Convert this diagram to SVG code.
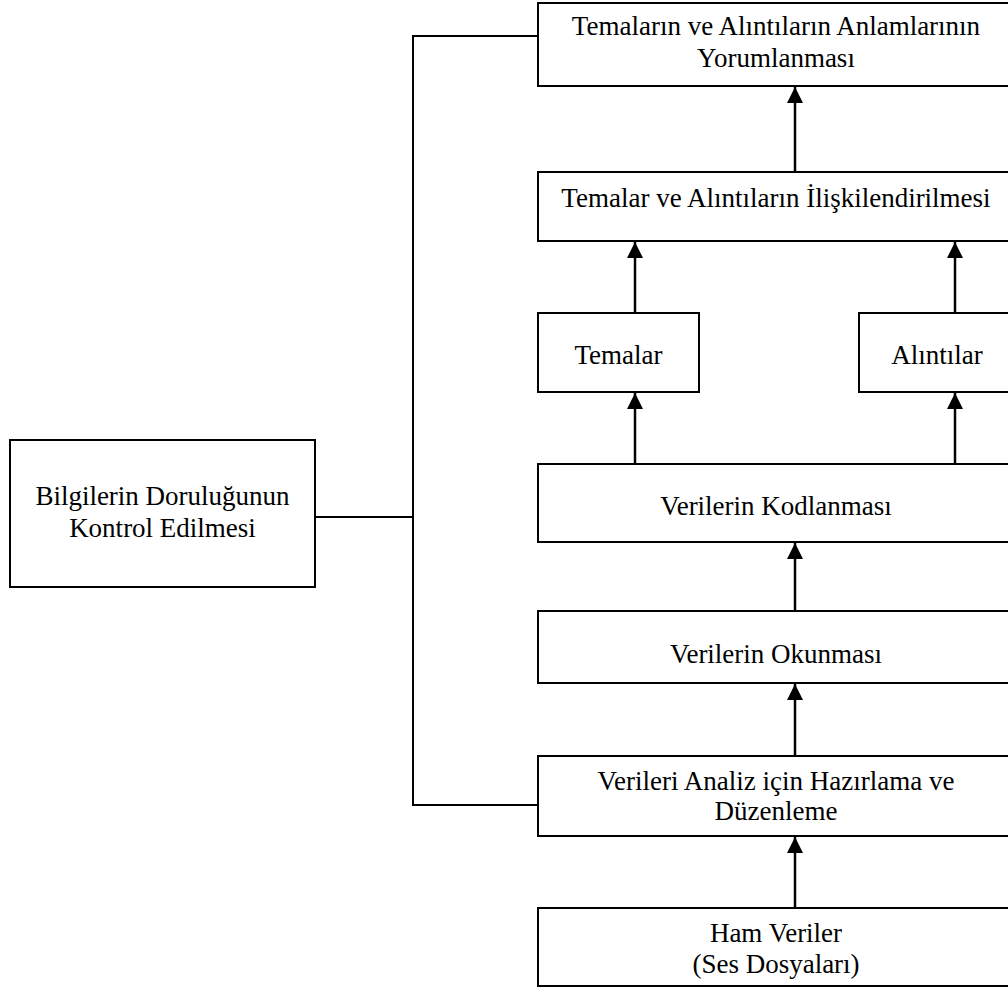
<svg xmlns="http://www.w3.org/2000/svg" width="1008" height="987" viewBox="0 0 1008 987">
  <style>
    .box { fill: #ffffff; stroke: #000000; stroke-width: 2; }
    .lbl { font-family: "Liberation Serif", "Times New Roman", serif; font-size: 27px; fill: #000000; text-anchor: middle; }
    .link { fill: none; stroke: #000000; stroke-width: 2; }
    .flow { fill: none; stroke: #000000; stroke-width: 2.5; marker-end: url(#head); }
  </style>
  <defs>
    <marker id="head" viewBox="0 0 16 16" refX="16" refY="8" markerWidth="16" markerHeight="16" markerUnits="userSpaceOnUse" orient="auto">
      <path d="M0,0 L16,8 L0,16 z" fill="#000000"/>
    </marker>
  </defs>
  <rect width="1008" height="987" fill="#ffffff"/>

  <g id="connectors">
    <!-- verification bracket -->
    <path class="link" d="M315,517 H413"/>
    <path class="link" d="M538,36 H413 V805 H538"/>
    <!-- upward flow -->
    <path class="flow" d="M795,908 V837"/>
    <path class="flow" d="M795,756 V684"/>
    <path class="flow" d="M795,611 V543"/>
    <path class="flow" d="M635,464 V393"/>
    <path class="flow" d="M955,464 V393"/>
    <path class="flow" d="M635,313 V242"/>
    <path class="flow" d="M955,313 V242"/>
    <path class="flow" d="M795,172 V87"/>
  </g>

  <g id="yorumlama">
    <rect class="box" x="538" y="3" width="477" height="83"/>
    <text class="lbl" x="776" y="35">Temaların ve Alıntıların Anlamlarının</text>
    <text class="lbl" x="776" y="67">Yorumlanması</text>
  </g>

  <g id="iliskilendirme">
    <rect class="box" x="538" y="172" width="477" height="69"/>
    <text class="lbl" x="776" y="207">Temalar ve Alıntıların İlişkilendirilmesi</text>
  </g>

  <g id="temalar">
    <rect class="box" x="538" y="313" width="161" height="79"/>
    <text class="lbl" x="618.5" y="364">Temalar</text>
  </g>

  <g id="alintilar">
    <rect class="box" x="859" y="313" width="156" height="79"/>
    <text class="lbl" x="937" y="364">Alıntılar</text>
  </g>

  <g id="kodlama">
    <rect class="box" x="538" y="464" width="477" height="78"/>
    <text class="lbl" x="776" y="515">Verilerin Kodlanması</text>
  </g>

  <g id="okuma">
    <rect class="box" x="538" y="611" width="477" height="72"/>
    <text class="lbl" x="776" y="663">Verilerin Okunması</text>
  </g>

  <g id="hazirlama">
    <rect class="box" x="538" y="756" width="477" height="80"/>
    <text class="lbl" x="776" y="790">Verileri Analiz için Hazırlama ve</text>
    <text class="lbl" x="776" y="820">Düzenleme</text>
  </g>

  <g id="ham-veriler">
    <rect class="box" x="538" y="908" width="477" height="78"/>
    <text class="lbl" x="776" y="942">Ham Veriler</text>
    <text class="lbl" x="776" y="973">(Ses Dosyaları)</text>
  </g>

  <g id="dogruluk-kontrolu">
    <rect class="box" x="10" y="440" width="305" height="147"/>
    <text class="lbl" x="162.5" y="505">Bilgilerin Doruluğunun</text>
    <text class="lbl" x="162.5" y="537">Kontrol Edilmesi</text>
  </g>
</svg>
